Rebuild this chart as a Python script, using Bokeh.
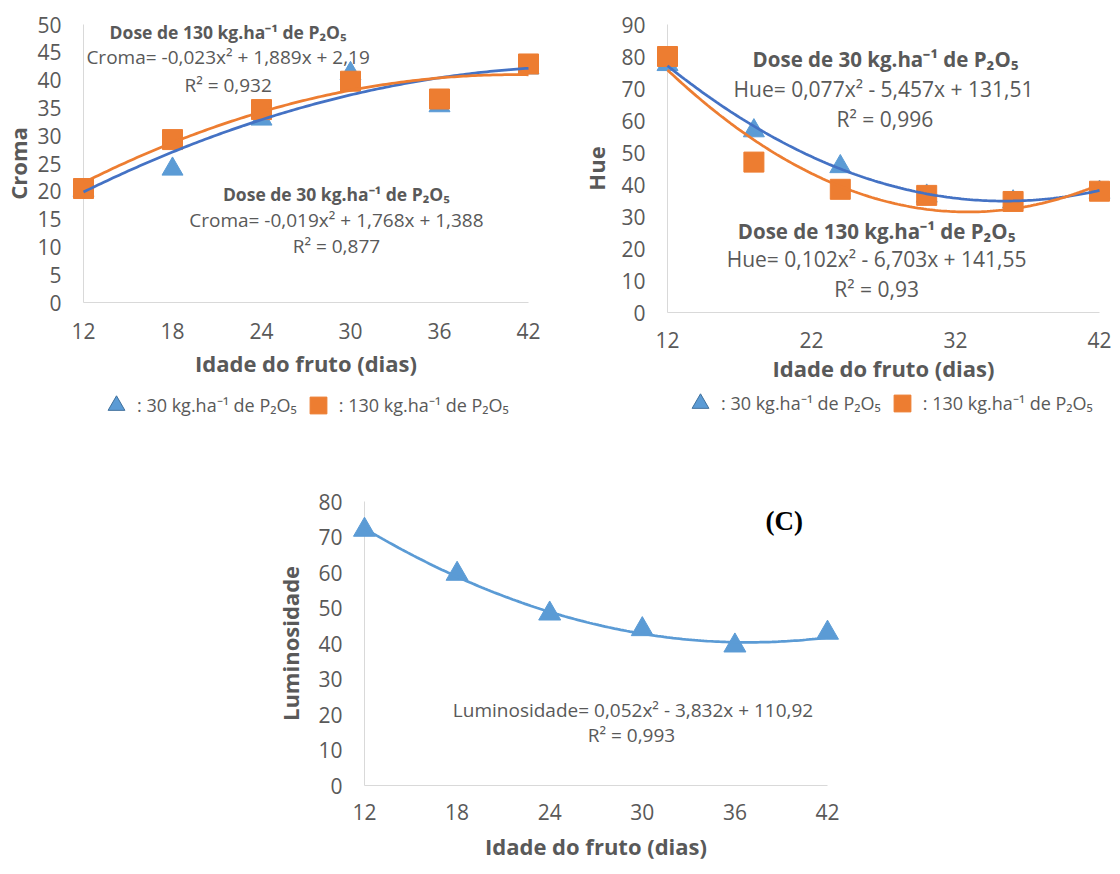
import numpy as np
from bokeh.plotting import figure
from bokeh.layouts import column, row, Spacer
from bokeh.models import Range1d, FixedTicker, Label, Legend, LegendItem
from bokeh.embed import file_html
from bokeh.resources import INLINE

# ---------------- data ----------------
days = [12, 18, 24, 30, 36, 42]

croma_30 = [20.2, 24.0, 33.0, 41.2, 35.4, 42.2]
croma_130 = [20.5, 29.3, 34.7, 39.8, 36.6, 42.9]

hue_30 = [77.5, 56.8, 45.6, 36.4, 34.6, 37.6]
hue_130 = [80.0, 47.0, 38.5, 36.6, 34.7, 37.9]

lum_30 = [72.0, 59.6, 48.4, 44.0, 39.4, 43.0]

# trend-line coefficients printed on the chart (a, b, c of ax^2+bx+c)
croma_30_fit = [-0.019, 1.768, 1.388]
croma_130_fit = [-0.023, 1.889, 2.19]
hue_30_fit = [0.077, -5.457, 131.51]
hue_130_fit = [0.102, -6.703, 141.55]
lum_fit = [0.052, -3.832, 110.92]

ticks_a_x = [12, 18, 24, 30, 36, 42]
ticks_a_y = [0, 5, 10, 15, 20, 25, 30, 35, 40, 45, 50]
ticks_b_x = [12, 22, 32, 42]
ticks_b_y = [0, 10, 20, 30, 40, 50, 60, 70, 80, 90]
ticks_c_x = [12, 18, 24, 30, 36, 42]
ticks_c_y = [0, 10, 20, 30, 40, 50, 60, 70, 80]

label_30 = ": 30 kg.ha\u207b\u00b9 de P\u2082O\u2085"
label_130 = ": 130 kg.ha\u207b\u00b9 de P\u2082O\u2085"
dose_30 = "Dose de 30 kg.ha\u207b\u00b9 de P\u2082O\u2085"
dose_130 = "Dose de 130 kg.ha\u207b\u00b9 de P\u2082O\u2085"
x_title = "Idade do fruto (dias)"

BLUE = "#5B9BD5"
DBLUE = "#4472C4"
ORANGE = "#ED7D31"
GREY = "#595959"
AXIS = "#D9D9D9"
FONT = "Open Sans"


def make_fig(fw, fh, bl, br, bt, bb, ymax, xt, yt, ylabel, xstand, xlstand, ylstand):
    p = figure(frame_width=fw, frame_height=fh,
               min_border_left=bl, min_border_right=br,
               min_border_top=bt, min_border_bottom=bb,
               x_range=Range1d(12, 42), y_range=Range1d(0, ymax),
               output_backend="svg", toolbar_location=None)
    p.xaxis.ticker = FixedTicker(ticks=xt)
    p.yaxis.ticker = FixedTicker(ticks=yt)
    for ax in (p.xaxis[0], p.yaxis[0]):
        ax.axis_line_color = AXIS
        ax.axis_line_width = 1
        ax.major_tick_line_color = None
        ax.minor_tick_line_color = None
        ax.major_tick_out = 0
        ax.major_tick_in = 0
        ax.minor_tick_out = 0
        ax.major_label_text_font = FONT
        ax.major_label_text_font_size = "21px"
        ax.major_label_text_color = GREY
        ax.axis_label_text_font = FONT
        ax.axis_label_text_font_style = "bold"
        ax.axis_label_text_font_size = "22px"
        ax.axis_label_text_color = GREY
    p.xaxis.axis_label = x_title
    p.yaxis.axis_label = ylabel
    p.xaxis.major_label_standoff = xstand
    p.yaxis.major_label_standoff = 22
    p.xaxis.axis_label_standoff = xlstand
    p.yaxis.axis_label_standoff = ylstand
    p.grid.visible = False
    p.outline_line_color = None
    p.background_fill_color = "white"
    p.border_fill_color = "white"
    return p


def curve(p, coef, color):
    xs = np.linspace(12, 42, 151)
    p.line(xs, np.polyval(coef, xs), line_color=color, line_width=2.75, level="overlay")


def add_text(p, x, y, text, size, bold=False, color=GREY, font=FONT):
    p.add_layout(Label(x=x, y=y, text=text, text_align="center", text_baseline="middle",
                       text_font=font, text_font_size=size, text_color=color,
                       text_font_style="bold" if bold else "normal"))


def legend_fig(width, height, loc):
    # a strip that only holds the legend; its swatch renderers carry no data point
    lf = figure(width=width, height=height, min_border=0,
                x_range=Range1d(0, 1), y_range=Range1d(0, 1),
                x_axis_location=None, y_axis_location=None,
                output_backend="svg", toolbar_location=None)
    lf.grid.visible = False
    lf.outline_line_color = None
    t = lf.scatter(x=[np.nan], y=[np.nan], marker="triangle", fill_color=BLUE,
                   line_color="#41719C", line_width=1)
    s = lf.scatter(x=[np.nan], y=[np.nan], marker="square", fill_color=ORANGE,
                   line_color=ORANGE)
    lg = Legend(items=[LegendItem(label=label_30, renderers=[t]),
                       LegendItem(label=label_130, renderers=[s])],
                location=loc, orientation="horizontal",
                glyph_width=42, glyph_height=42, label_standoff=0, spacing=0,
                padding=0, margin=0, border_line_color=None, background_fill_alpha=0,
                label_text_font=FONT, label_text_font_size="18px", label_text_color=GREY,
                label_text_baseline="middle")
    lf.add_layout(lg)
    return lf


# ---------------- chart A : Croma ----------------
pa = make_fig(445, 278, 77, 50, 24, 88, 50, ticks_a_x, ticks_a_y, "Croma", 20, 6, 1)
pa.scatter(days, croma_30, marker="triangle", size=21, fill_color=BLUE,
           line_color=BLUE, level="overlay")
pa.scatter(days, croma_130, marker="square", size=20, fill_color=ORANGE,
           line_color=ORANGE, level="overlay")
curve(pa, croma_30_fit, DBLUE)
curve(pa, croma_130_fit, ORANGE)
add_text(pa, 21.75, 48.6, dose_130, "17.5px", bold=True)
add_text(pa, 21.75, 44.1, "Croma= -0,023x\u00b2 + 1,889x + 2,19", "19px")
add_text(pa, 21.75, 39.2, "R\u00b2 = 0,932", "19px")
add_text(pa, 29.05, 19.6, dose_30, "17.5px", bold=True)
add_text(pa, 29.05, 14.9, "Croma= -0,019x\u00b2 + 1,768x + 1,388", "19px")
add_text(pa, 29.05, 10.1, "R\u00b2 = 0,877", "19px")

# ---------------- chart B : Hue ----------------
pb = make_fig(432, 288, 84, 16, 23, 79, 90, ticks_b_x, ticks_b_y, "Hue", 19, 2, 7)
pb.scatter(days, hue_30, marker="triangle", size=21, fill_color=BLUE,
           line_color=BLUE, level="overlay")
pb.scatter(days, hue_130, marker="square", size=20, fill_color=ORANGE,
           line_color=ORANGE, level="overlay")
curve(pb, hue_30_fit, DBLUE)
curve(pb, hue_130_fit, ORANGE)
add_text(pb, 27.14, 79.1, dose_30, "20.5px", bold=True)
add_text(pb, 27.0, 70.0, "Hue= 0,077x\u00b2 - 5,457x + 131,51", "21px")
add_text(pb, 27.1, 60.6, "R\u00b2 = 0,996", "21px")
add_text(pb, 26.52, 25.6, dose_130, "20.5px", bold=True)
add_text(pb, 26.52, 16.6, "Hue= 0,102x\u00b2 - 6,703x + 141,55", "21px")
add_text(pb, 26.52, 7.5, "R\u00b2 = 0,93", "21px")

# ---------------- legends (own strips under A and B) ----------------
la = legend_fig(572, 34, (95, -2))
lb = legend_fig(532, 34, (107, 0))

# ---------------- chart C : Luminosidade ----------------
pc = make_fig(463, 284, 86, 20, 77, 81, 80, ticks_c_x, ticks_c_y, "Luminosidade", 18, 8, 10)
pc.scatter(days, lum_30, marker="triangle", size=22, fill_color=BLUE,
           line_color=BLUE, level="overlay")
curve(pc, lum_fit, BLUE)
add_text(pc, 29.4, 21.4, "Luminosidade= 0,052x\u00b2 - 3,832x + 110,92", "19px")
add_text(pc, 29.3, 14.2, "R\u00b2 = 0,993", "19px")
add_text(pc, 39.2, 74.4, "(C)", "27px", bold=True, color="black", font="Liberation Serif")

layout = column(row(pa, pb), row(la, lb), row(Spacer(width=272, height=442), pc))

open("out.html", "w").write(file_html(layout, INLINE))
